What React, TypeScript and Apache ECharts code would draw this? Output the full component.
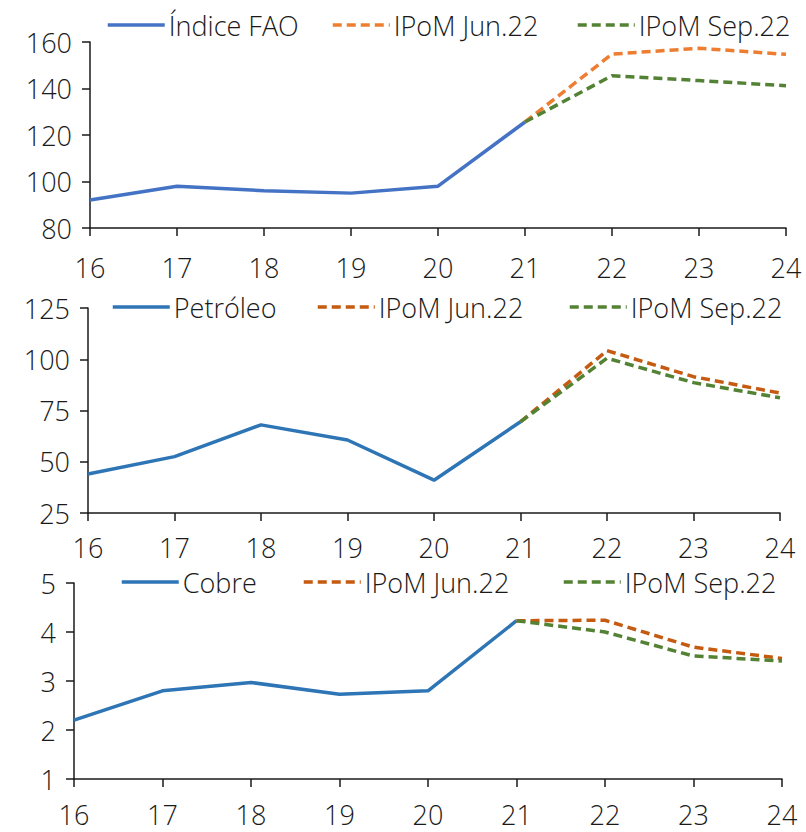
import React, { useEffect, useRef } from "react";
import * as echarts from "echarts";

const years = ["16", "17", "18", "19", "20", "21", "22", "23", "24"];

const faoHist = [92, 98, 96, 95, 98, 125.6, null, null, null];
const faoJun = [null, null, null, null, null, 125.6, 154.8, 157.3, 154.7];
const faoSep = [null, null, null, null, null, 125.6, 145.5, 143.4, 141.2];

const oilHist = [44, 52.5, 68, 60.6, 41, 69.5, null, null, null];
const oilJun = [null, null, null, null, null, 69.5, 104.2, 91.5, 83.5];
const oilSep = [null, null, null, null, null, 69.5, 100.5, 88.6, 81.2];

const cuHist = [2.2, 2.8, 2.97, 2.73, 2.8, 4.23, null, null, null];
const cuJun = [null, null, null, null, null, 4.23, 4.24, 3.69, 3.46];
const cuSep = [null, null, null, null, null, 4.23, 4.0, 3.51, 3.41];

const FONT = "'Open Sans', 'Noto Sans', sans-serif";
const TXT = "#1a1a1a";
const FS = 27;

export default function App() {
  const ref = useRef<HTMLDivElement>(null);
  useEffect(() => {
    if (!ref.current) return;
    const chart = echarts.init(ref.current, null, { renderer: "svg" });

    const grids = [
      { left: 90, right: 20, top: 42, height: 186 },
      { left: 88, right: 26, top: 308, height: 205 },
      { left: 74, right: 24, top: 583, height: 196 },
    ];
    const xMargins = [26, 21, 22];
    const yCfg = [
      { min: 80, max: 160, interval: 20 },
      { min: 25, max: 125, interval: 25 },
      { min: 1, max: 5, interval: 1 },
    ];

    const xAxis = grids.map((_, i) => ({
      type: "category",
      gridIndex: i,
      data: years,
      boundaryGap: false,
      axisLine: { lineStyle: { color: "#1a1a1a", width: 1.5 } },
      axisTick: { show: true, length: 8, lineStyle: { color: "#1a1a1a", width: 1.5 }, alignWithLabel: true },
      axisLabel: { fontSize: FS, color: TXT, fontFamily: FONT, fontWeight: 300, margin: xMargins[i], interval: 0 },
      splitLine: { show: false },
    }));
    const yAxis = yCfg.map((c, i) => ({
      type: "value",
      gridIndex: i,
      min: c.min,
      max: c.max,
      interval: c.interval,
      axisLine: { show: true, lineStyle: { color: "#1a1a1a", width: 1.5 } },
      axisTick: { show: true, length: 8, lineStyle: { color: "#1a1a1a", width: 1.5 } },
      axisLabel: { fontSize: FS, color: TXT, fontFamily: FONT, fontWeight: 300, margin: 18 },
      splitLine: { show: false },
    }));

    const mk = (name: string, data: (number | null)[], idx: number, color: string, dashed: boolean) => ({
      name,
      type: "line",
      xAxisIndex: idx,
      yAxisIndex: idx,
      data,
      symbol: "none",
      connectNulls: false,
      lineStyle: { color, width: 3.5, type: dashed ? [9, 5] : "solid", cap: "butt" },
      itemStyle: { color },
      z: dashed ? 3 : 2,
    });

    const BLUE1 = "#4472C4";
    const BLUE2 = "#2E75B6";
    const ORANGE1 = "#ED7D31";
    const ORANGE2 = "#C55A11";
    const GREEN = "#548235";

    const series = [
      mk("Índice FAO", faoHist, 0, BLUE1, false),
      mk("IPoM Jun.22", faoJun, 0, ORANGE1, true),
      mk("IPoM Sep.22", faoSep, 0, GREEN, true),
      mk("Petróleo", oilHist, 1, BLUE2, false),
      mk("IPoM Jun.22 ", oilJun, 1, ORANGE2, true),
      mk("IPoM Sep.22 ", oilSep, 1, GREEN, true),
      mk("Cobre", cuHist, 2, BLUE2, false),
      mk("IPoM Jun.22  ", cuJun, 2, ORANGE2, true),
      mk("IPoM Sep.22  ", cuSep, 2, GREEN, true),
    ];

    const legendPos = [
      { name: "Índice FAO", left: 106, cy: 25 },
      { name: "IPoM Jun.22", left: 331, cy: 25 },
      { name: "IPoM Sep.22", left: 576, cy: 25 },
      { name: "Petróleo", left: 111, cy: 307 },
      { name: "IPoM Jun.22 ", left: 316, cy: 307 },
      { name: "IPoM Sep.22 ", left: 568, cy: 307 },
      { name: "Cobre", left: 120, cy: 582 },
      { name: "IPoM Jun.22  ", left: 302, cy: 582 },
      { name: "IPoM Sep.22  ", left: 562, cy: 582 },
    ];
    const legend = legendPos.map((l) => ({
      data: [l.name],
      left: l.left,
      top: l.cy - 18,
      padding: 0,
      itemWidth: 57,
      itemHeight: 14,
      itemGap: 0,
      selectedMode: false,
      formatter: (n: string) => n.trim(),
      itemStyle: { opacity: 0 },
      lineStyle: { width: 3.5 },
      textStyle: { fontSize: FS, color: TXT, fontFamily: FONT, fontWeight: 300, padding: [0, 0, 0, -1], lineHeight: 36 },
    }));

    chart.setOption({
      animation: false,
      backgroundColor: "#ffffff",
      grid: grids,
      xAxis,
      yAxis,
      legend,
      series,
    });
    return () => chart.dispose();
  }, []);
  return (
    <div
      ref={ref}
      style={{ position: "fixed", left: 0, top: 0, width: 806, height: 832, background: "#fff" }}
    />
  );
}
